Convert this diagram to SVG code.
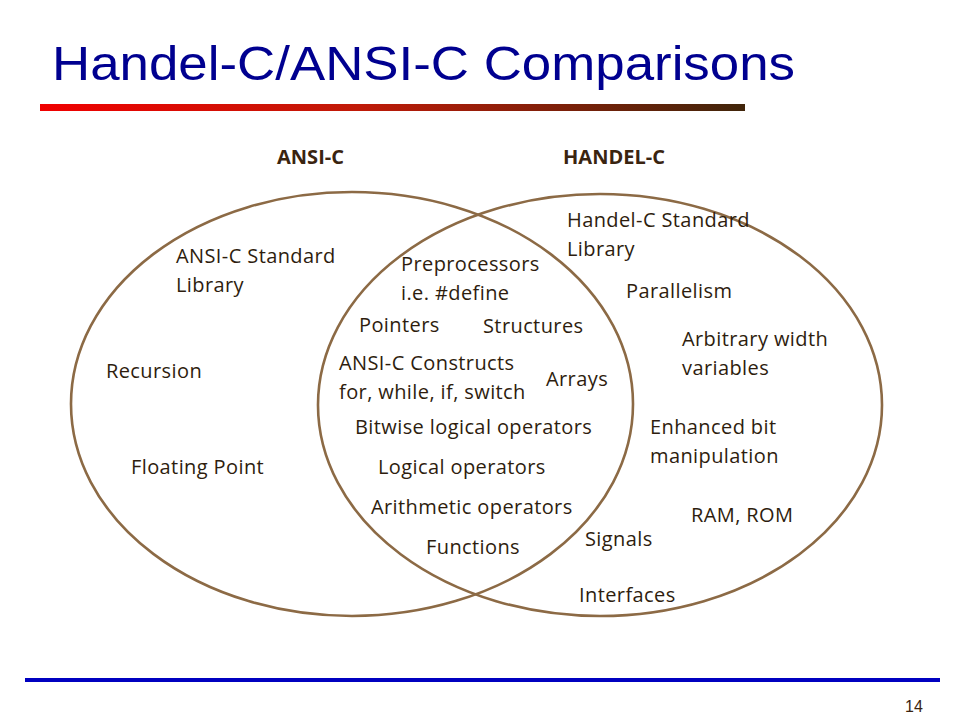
<svg xmlns="http://www.w3.org/2000/svg" width="960" height="720" viewBox="0 0 960 720">
<defs>
<linearGradient id="bar" x1="0" y1="0" x2="1" y2="0">
<stop offset="0" stop-color="#f00000"/>
<stop offset="0.45" stop-color="#c01a08"/>
<stop offset="1" stop-color="#40250a"/>
</linearGradient>
<style>
.t{font-family:"Open Sans","Noto Sans",sans-serif;font-size:20px;letter-spacing:0.4px;fill:#2e1d0e}
.h{font-family:"Open Sans","Noto Sans",sans-serif;font-size:19px;font-weight:bold;fill:#3a2410}
.e{fill:none;stroke:#8c6a45;stroke-width:2.6}
</style>
</defs>
<rect width="960" height="720" fill="#ffffff"/>
<text x="52" y="80" font-family="Liberation Sans, Arial, sans-serif" font-size="48" fill="#000090" textLength="743" lengthAdjust="spacingAndGlyphs">Handel-C/ANSI-C Comparisons</text>
<rect x="40" y="104" width="705" height="7" fill="url(#bar)"/>
<text class="h" x="277" y="164" textLength="67" lengthAdjust="spacingAndGlyphs">ANSI-C</text>
<text class="h" x="563" y="164" textLength="102" lengthAdjust="spacingAndGlyphs">HANDEL-C</text>
<g id="ansi-c">
<ellipse class="e" cx="352" cy="404" rx="281" ry="212"/>
</g>
<g id="handel-c">
<ellipse class="e" cx="600" cy="405" rx="282" ry="211"/>
</g>
<g id="connectors"></g>
<g id="labels">
<text class="t" x="176" y="263">ANSI-C Standard</text>
<text class="t" x="176" y="292">Library</text>
<text class="t" x="106" y="378">Recursion</text>
<text class="t" x="131" y="474">Floating Point</text>
<text class="t" x="401" y="271">Preprocessors</text>
<text class="t" x="401" y="300">i.e. #define</text>
<text class="t" x="359" y="332">Pointers</text>
<text class="t" x="483" y="333">Structures</text>
<text class="t" x="339" y="370">ANSI-C Constructs</text>
<text class="t" x="339" y="399">for, while, if, switch</text>
<text class="t" x="546" y="386">Arrays</text>
<text class="t" x="355" y="434">Bitwise logical operators</text>
<text class="t" x="378" y="474">Logical operators</text>
<text class="t" x="371" y="514">Arithmetic operators</text>
<text class="t" x="426" y="554">Functions</text>
<text class="t" x="567" y="227">Handel-C Standard</text>
<text class="t" x="567" y="256">Library</text>
<text class="t" x="626" y="298">Parallelism</text>
<text class="t" x="682" y="346">Arbitrary width</text>
<text class="t" x="682" y="375">variables</text>
<text class="t" x="650" y="434">Enhanced bit</text>
<text class="t" x="650" y="463">manipulation</text>
<text class="t" x="691" y="522">RAM, ROM</text>
<text class="t" x="585" y="546">Signals</text>
<text class="t" x="579" y="602">Interfaces</text>
</g>
<rect x="25" y="678" width="915" height="4" fill="#0000c0"/>
<text x="905" y="712" font-family="Liberation Sans, Arial, sans-serif" font-size="16" fill="#3a2410">14</text>
</svg>
